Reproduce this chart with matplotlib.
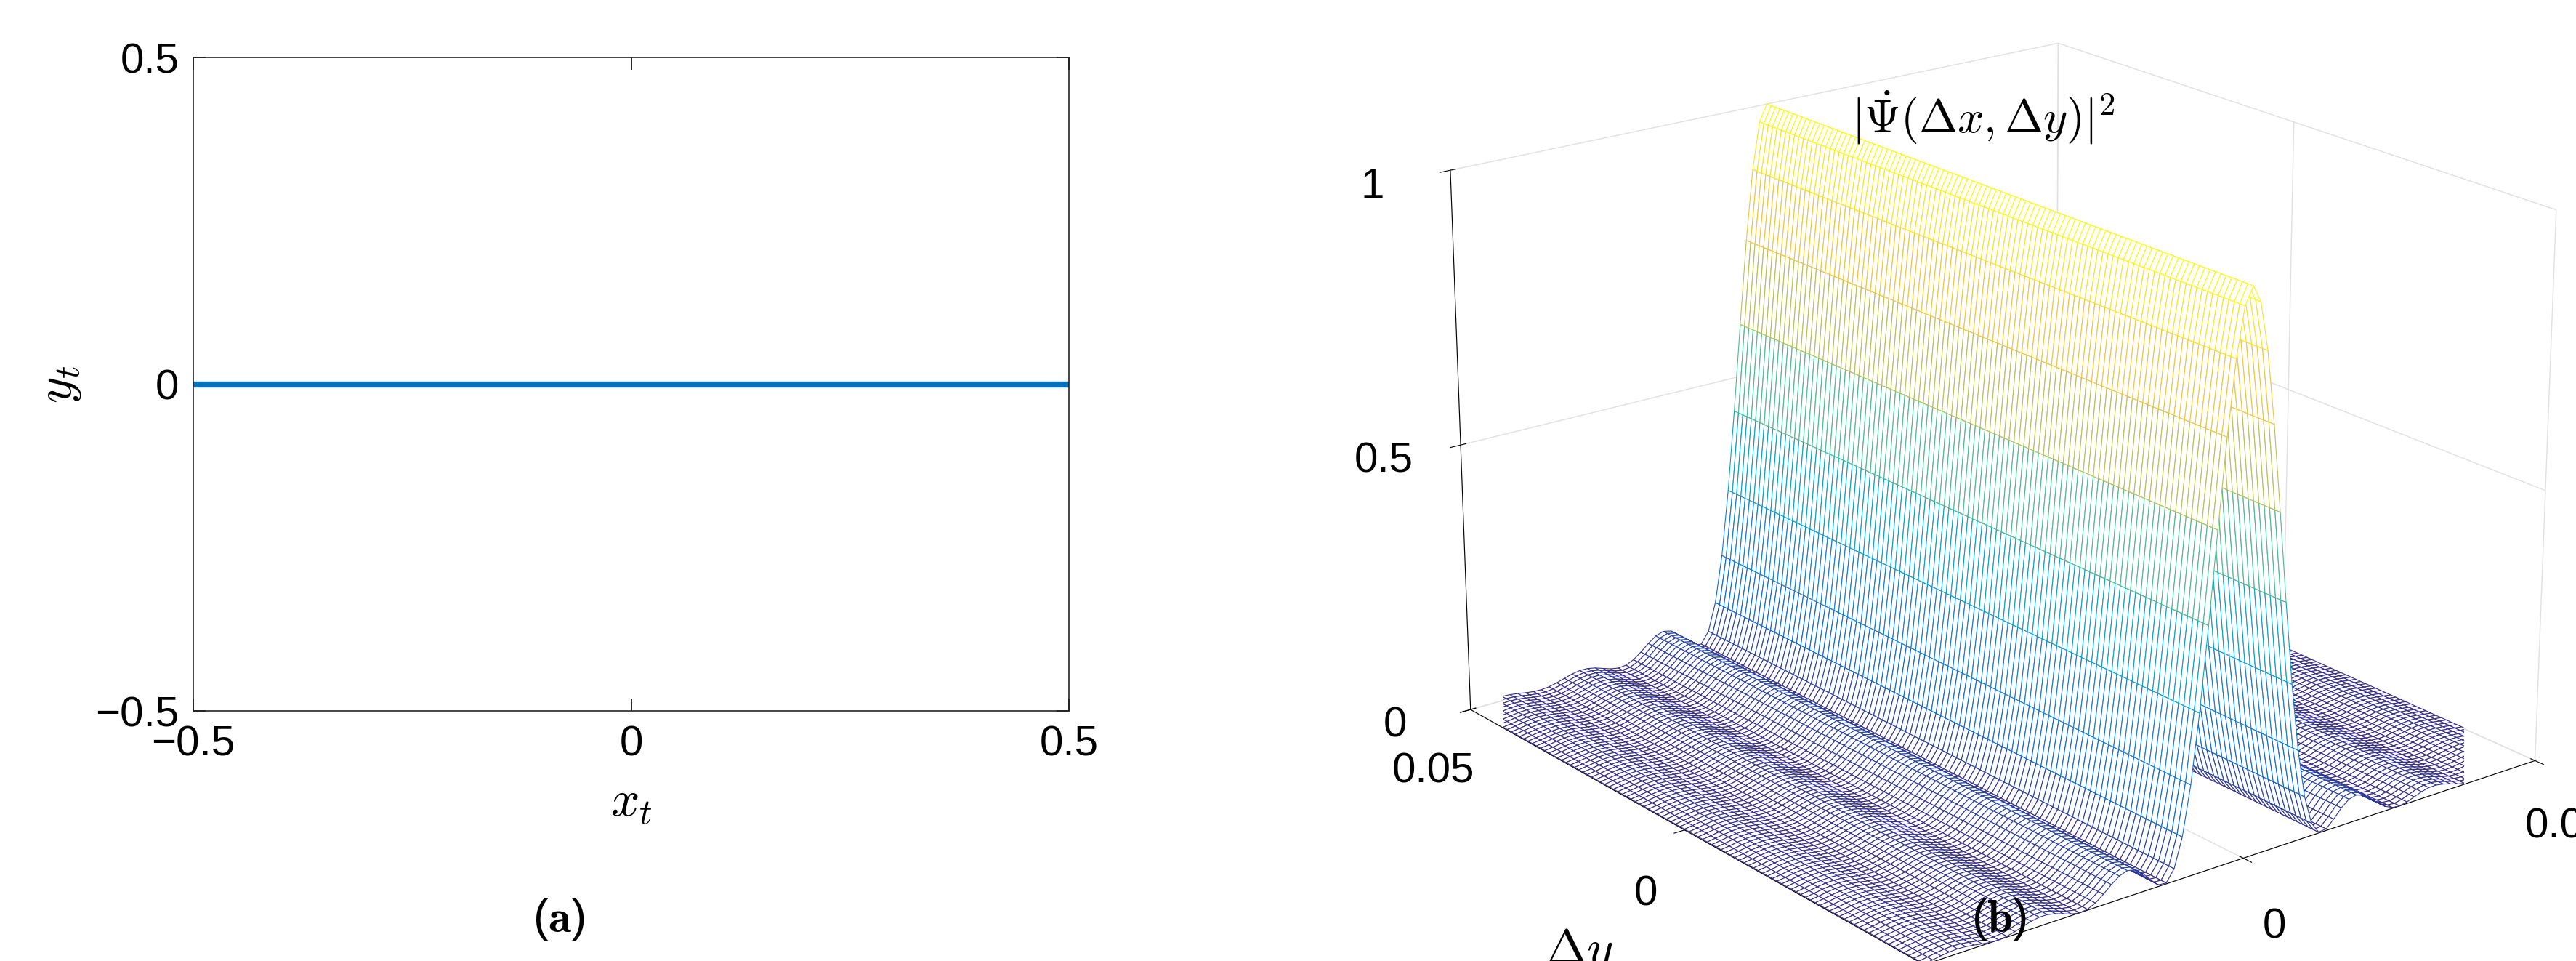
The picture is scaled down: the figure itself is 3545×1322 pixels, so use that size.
import numpy as np
import matplotlib.pyplot as plt
from matplotlib.colors import LinearSegmentedColormap

# panel (a): trajectory
xt = [-0.5, 0.5]
yt = [0.0, 0.0]

# panel (b): sinc^2 ridge, constant along dy
dx = np.linspace(-0.05, 0.05, 81)
dy = np.linspace(-0.05, 0.05, 101)
width = 0.013
peak = 1.0

parula = LinearSegmentedColormap.from_list('parula', [
    (0.2081, 0.1663, 0.5292), (0.0165, 0.4266, 0.8786), (0.0779, 0.5040, 0.8384),
    (0.0232, 0.6407, 0.7925), (0.2178, 0.7250, 0.6135), (0.5898, 0.7567, 0.4091),
    (0.8834, 0.7386, 0.2803), (0.9950, 0.7917, 0.2029), (0.9763, 0.9831, 0.0538)])

plt.rcParams['font.family'] = ['Liberation Sans', 'DejaVu Sans']
plt.rcParams['mathtext.fontset'] = 'cm'

fig = plt.figure(figsize=(35.45, 13.22), dpi=100)

ax = fig.add_axes([0.075, 0.26, 0.34, 0.68])
ax.plot(xt, yt, color='#0072BD', lw=6)
ax.set_xlim(-0.5, 0.5)
ax.set_ylim(-0.5, 0.5)
ax.set_xticks([-0.5, 0, 0.5])
ax.set_yticks([-0.5, 0, 0.5])
ax.set_xticklabels(['\u22120.5', '0', '0.5'])
ax.set_yticklabels(['\u22120.5', '0', '0.5'])
ax.tick_params(labelsize=42, direction='in', length=12, width=1.2, top=True, right=True, pad=14)
for s in ax.spines.values():
    s.set_linewidth(1.2)
    s.set_color('#262626')
ax.set_xlabel('$x_t$', fontsize=50, labelpad=16)
ax.set_ylabel('$y_t$', fontsize=50, labelpad=12)
fig.text(0.217, 0.03, r'($\mathbf{a}$)', ha='center', fontsize=46)

# 3D mesh
X, Y = np.meshgrid(dx, dy)
Z = peak * np.sinc(X / width) ** 2
ax3 = fig.add_axes([0.56, 0.0, 0.42, 1.0], projection='3d')
surf = ax3.plot_surface(X, Y, Z, rstride=1, cstride=1, color='white', shade=False, linewidth=0.8)
zf = (Z[:-1, :-1] + Z[1:, :-1] + Z[:-1, 1:] + Z[1:, 1:]) / 4
surf.set_edgecolor(parula(zf.ravel() / zf.max()))
ax3.view_init(elev=20, azim=-128)
ax3.set_box_aspect((1, 1, 0.75), zoom=1.25)
ax3.set_xlim(-0.05, 0.05)
ax3.set_ylim(-0.05, 0.05)
ax3.set_zlim(0, 1)
ax3.set_xticks([-0.05, 0, 0.05])
ax3.set_yticks([-0.05, 0, 0.05])
ax3.set_zticks([0, 0.5, 1])
ax3.set_xticklabels(['\u22120.05', '0', '0.05'])
ax3.set_yticklabels(['\u22120.05', '0', '0.05'])
ax3.set_zticklabels(['0', '0.5', '1'])
ax3.tick_params(labelsize=42)
ax3.tick_params(axis='x', pad=22)
ax3.tick_params(axis='y', pad=22)
ax3.tick_params(axis='z', pad=28)
for a in (ax3.xaxis, ax3.yaxis, ax3.zaxis):
    a.set_pane_color((1, 1, 1, 0))
    a._axinfo['grid']['color'] = (0.88, 0.88, 0.88, 1)
    a._axinfo['grid']['linewidth'] = 1.0
    a.set_rotate_label(False)
ax3.set_xlabel(r'$\Delta x$', fontsize=50, labelpad=60)
ax3.set_ylabel(r'$\Delta y$', fontsize=50, labelpad=60)
ax3.set_title(r'$|\dot{\Psi}(\Delta x,\Delta y)|^2$', fontsize=46, y=0.93)
fig.text(0.776, 0.03, r'($\mathbf{b}$)', ha='center', fontsize=46)

fig.savefig('out.png', dpi=100, facecolor='white')
